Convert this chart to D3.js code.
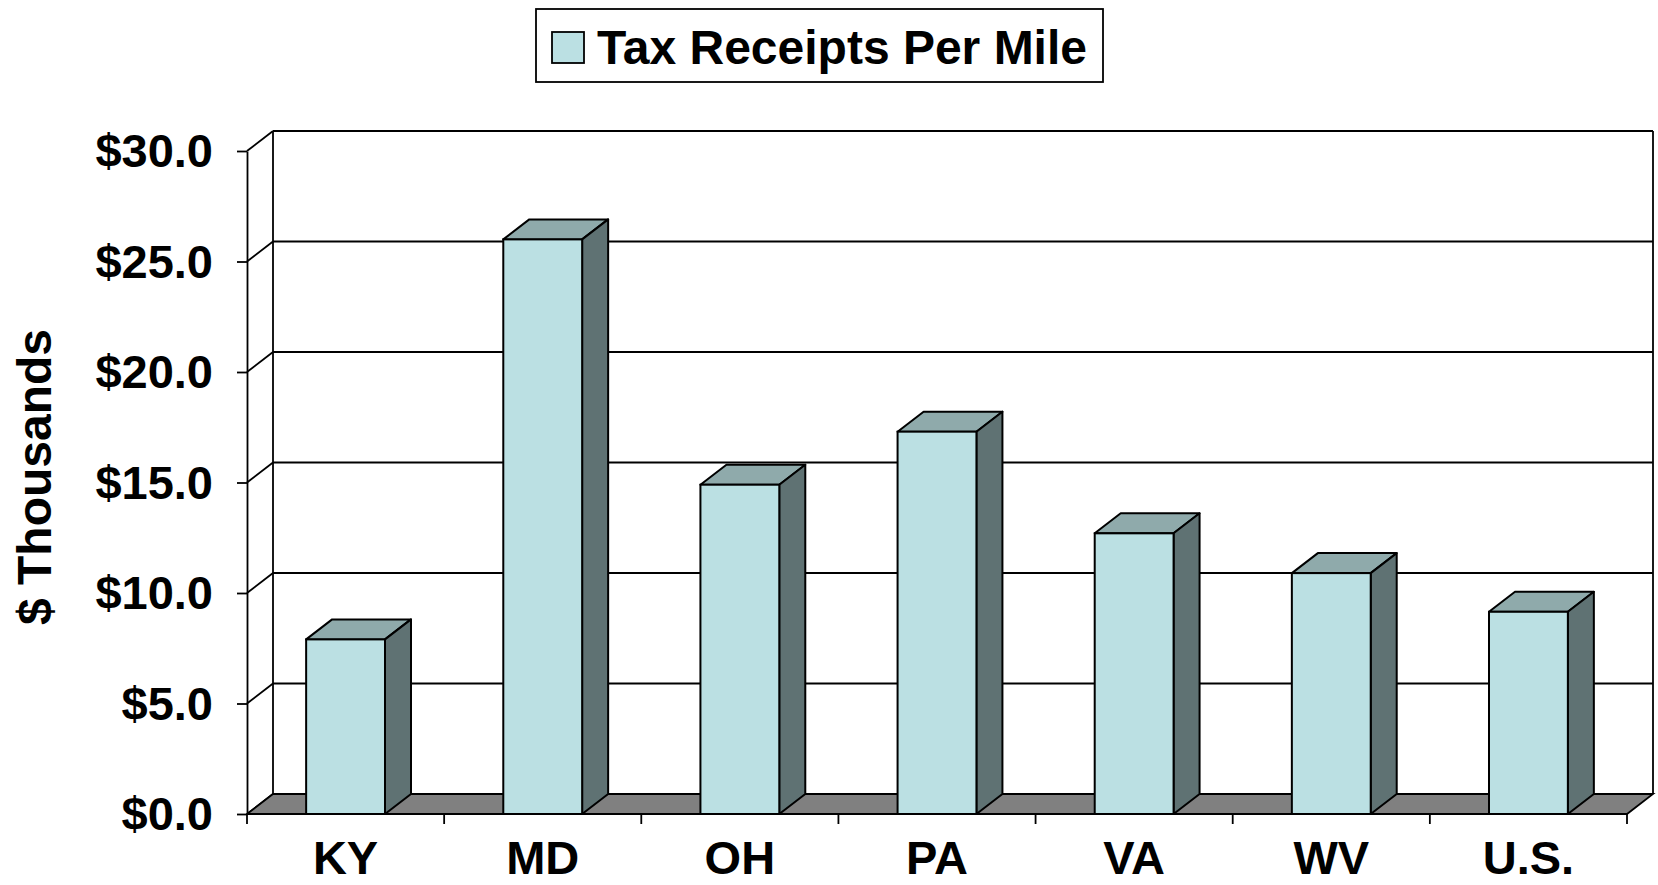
<!DOCTYPE html>
<html>
<head>
<meta charset="utf-8">
<title>Tax Receipts Per Mile</title>
<style>
  body { margin: 0; background: #fff; }
  text { font-family: "Liberation Sans", Arial, sans-serif; font-weight: bold; }
</style>
</head>
<body>
<script src="https://cdn.jsdelivr.net/npm/d3@7"></script>
<script>
var width = 1658,
    height = 885;

// data
var states = ["KY", "MD", "OH", "PA", "VA", "WV", "U.S."];
var receipts = [7.9, 26.0, 14.9, 17.3, 12.7, 10.9, 9.15];
var yTicks = [0, 5, 10, 15, 20, 25, 30];
var seriesName = "Tax Receipts Per Mile";

var colFront = "#bbe0e3",
    colTop = "#8faaab",
    colSide = "#5f7273",
    colFloor = "#808080";

// depth of the 3d box
var dx = 26, dy = -20;

var svg = d3.select("body")
  .append("svg")
  .attr("width", width)
  .attr("height", height);

var x = d3.scaleBand()
  .domain(states)
  .range([247, 1627])
  .paddingInner(0.6)
  .paddingOuter(0.3);

var y = d3.scaleLinear()
  .domain([0, 30])
  .range([814, 151]);

var x0 = x.range()[0], x1 = x.range()[1];

// back wall grid lines
svg.append("g")
  .selectAll("line")
  .data(yTicks)
  .enter().append("line")
  .attr("x1", x0 + dx).attr("x2", x1 + dx)
  .attr("y1", function(d){ return y(d) + dy; })
  .attr("y2", function(d){ return y(d) + dy; })
  .attr("stroke", "black").attr("stroke-width", 1.8);

// left wall diagonals
svg.append("g")
  .selectAll("line")
  .data(yTicks)
  .enter().append("line")
  .attr("x1", x0).attr("x2", x0 + dx)
  .attr("y1", function(d){ return y(d); })
  .attr("y2", function(d){ return y(d) + dy; })
  .attr("stroke", "black").attr("stroke-width", 1.8);

// wall verticals
[x0 + dx, x1 + dx].forEach(function(xx){
  svg.append("line")
    .attr("x1", xx).attr("x2", xx)
    .attr("y1", y(30) + dy).attr("y2", y(0) + dy)
    .attr("stroke", "black").attr("stroke-width", 1.8);
});

// floor
svg.append("polygon")
  .attr("points", [[x0, y(0)], [x1, y(0)], [x1 + dx, y(0) + dy], [x0 + dx, y(0) + dy]].join(" "))
  .attr("fill", colFloor)
  .attr("stroke", "black").attr("stroke-width", 1.8);

// bars
var bars = svg.append("g")
  .selectAll("g")
  .data(states.map(function(s, i){ return {name: s, value: receipts[i]}; }))
  .enter().append("g");

var bw = x.bandwidth();

bars.append("polygon")
  .attr("points", function(d){
    var a = x(d.name), t = y(d.value);
    return [[a, t], [a + dx, t + dy], [a + bw + dx, t + dy], [a + bw, t]].join(" ");
  })
  .attr("fill", colTop).attr("stroke", "black").attr("stroke-width", 2).attr("stroke-linejoin", "round");

bars.append("polygon")
  .attr("points", function(d){
    var a = x(d.name) + bw, t = y(d.value), b = y(0);
    return [[a, t], [a + dx, t + dy], [a + dx, b + dy], [a, b]].join(" ");
  })
  .attr("fill", colSide).attr("stroke", "black").attr("stroke-width", 2).attr("stroke-linejoin", "round");

bars.append("rect")
  .attr("x", function(d){ return x(d.name); })
  .attr("y", function(d){ return y(d.value); })
  .attr("width", bw)
  .attr("height", function(d){ return y(0) - y(d.value); })
  .attr("fill", colFront).attr("stroke", "black").attr("stroke-width", 2);

// y axis
var yAxis = svg.append("g")
  .attr("transform", "translate(" + x0 + ",0)")
  .call(d3.axisLeft(y)
    .tickValues(yTicks)
    .tickSize(10)
    .tickSizeOuter(0)
    .tickPadding(24)
    .tickFormat(function(d){ return "$" + d.toFixed(1); }));

yAxis.selectAll("line, path").attr("stroke", "black").attr("stroke-width", 1.8);
yAxis.selectAll("text")
  .attr("font-size", "47px")
  .attr("fill", "black")
  .attr("dy", "0.33em");

// x axis: ticks at category boundaries, labels at centres
var bounds = d3.range(states.length + 1).map(function(i){ return x0 + i * x.step(); });
svg.append("g")
  .selectAll("line")
  .data(bounds)
  .enter().append("line")
  .attr("x1", function(d){ return d; }).attr("x2", function(d){ return d; })
  .attr("y1", y(0)).attr("y2", y(0) + 10)
  .attr("stroke", "black").attr("stroke-width", 1.8);

svg.append("line")
  .attr("x1", x0).attr("x2", x1)
  .attr("y1", y(0)).attr("y2", y(0))
  .attr("stroke", "black").attr("stroke-width", 1.8);

svg.append("g")
  .selectAll("text")
  .data(states)
  .enter().append("text")
  .attr("x", function(d){ return x(d) + bw / 2; })
  .attr("y", 874)
  .attr("text-anchor", "middle")
  .attr("font-size", "47px")
  .text(function(d){ return d; });

// y axis title
svg.append("text")
  .attr("transform", "translate(51,477) rotate(-90)")
  .attr("text-anchor", "middle")
  .attr("font-size", "48px")
  .text("$ Thousands");

// legend
var legend = svg.append("g");
legend.append("rect")
  .attr("x", 536).attr("y", 9)
  .attr("width", 567).attr("height", 73)
  .attr("fill", "white").attr("stroke", "black").attr("stroke-width", 1.8);
legend.append("rect")
  .attr("x", 552).attr("y", 32)
  .attr("width", 32).attr("height", 31)
  .attr("fill", colFront).attr("stroke", "black").attr("stroke-width", 1.8);
legend.append("text")
  .attr("x", 597).attr("y", 64)
  .attr("font-size", "48px")
  .text(seriesName);
</script>
</body>
</html>
